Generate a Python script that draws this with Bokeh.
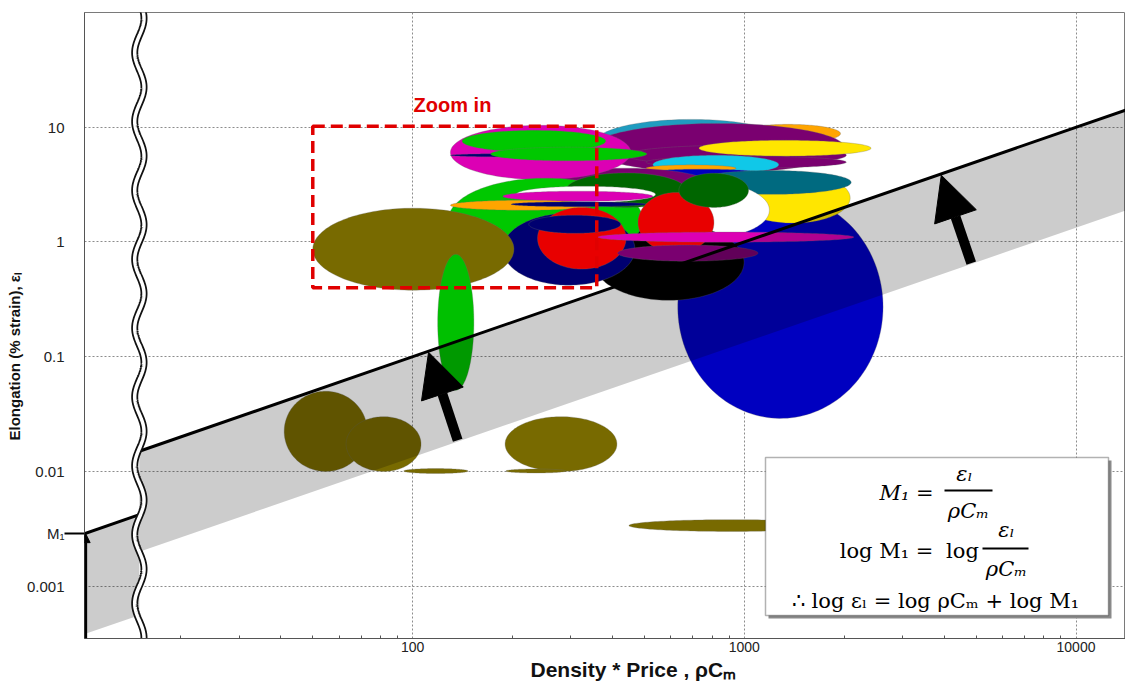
import numpy as np
from bokeh.plotting import figure
from bokeh.models import (FixedTicker, CustomJSTickFormatter, Label, Arrow, NormalHead,
                          BoxAnnotation, Title)
from bokeh.embed import file_html
from bokeh.resources import INLINE

# ---------------- axes ----------------
X_RANGE = (10.25, 14100.0)
Y_RANGE = (0.00035, 100.0)
X_TICKS = [100, 1000, 10000]
Y_TICKS = [0.001, 0.01, 0.1, 1, 10]
X_MINOR = [m * d for d in (10, 100, 1000) for m in range(2, 10)]
X_LABEL = "Density * Price , ρCₘ"
Y_LABEL = "Elongation (% strain), εₗ"

# ---------------- materials (property ranges, drawn in this order) ----------------
MAT_COLOR = [
    "#0000c0", "#1f9cc0", "#ffa500", "#7a0070", "#7a0070", "#ffe600", "#7a0070",
    "#10c8e8", "#ffa500", "#0000c0", "#ffe600", "#006a80", "#7a0070", "#ffffff",
    "#dc00b4", "#00c800", "#000070", "#00c800", "#000000", "#00c800",
    "#006600", "#ffffff", "#dc00b4", "#ffa500", "#000070", "#000070", "#e80000",
    "#000070", "#e80000", "#006600", "#dc00b4", "#7a0070",
    "#786a00", "#786a00", "#786a00", "#786a00", "#786a00", "#786a00", "#786a00",
    "#00c000",
]
RHOCM_LO = [630, 357, 944, 345, 440, 730, 505, 530, 505, 490, 944, 690, 235, 495,
            130, 141, 130, 172, 352, 128, 290, 205, 187, 130, 198, 187, 238,
            224, 478, 635, 362, 415,
            41, 63, 94, 190, 191, 449, 50, 119]
RHOCM_HI = [2620, 1340, 1950, 2010, 2030, 2410, 2030, 1270, 944, 1120, 2085, 2100, 800, 1190,
            455, 382, 354, 508, 998, 495, 667, 540, 530, 354, 508, 468, 440,
            424, 810, 1030, 2140, 1100,
            73, 106, 147, 413, 290, 1850, 202, 153]
ELONG_LO = [0.029, 4.7, 7.3, 4.0, 4.67, 5.6, 4.4, 3.9, 4.1, 3.67, 1.46, 2.6, 2.2, 1.08,
            3.5, 6.1, 5.5, 5.1, 0.31, 0.67, 2.0, 2.2, 2.26, 1.89, 2.03, 0.42, 0.58,
            1.19, 0.81, 2.0, 0.995, 0.68,
            0.010, 0.010, 0.0096, 0.010, 0.0097, 0.0030, 0.38, 0.051]
ELONG_HI = [2.55, 11.7, 10.6, 10.8, 6.97, 7.7, 5.6, 5.7, 4.7, 4.31, 4.0, 4.2, 4.4, 3.32,
            10.4, 9.4, 5.9, 6.7, 1.43, 3.6, 4.0, 3.06, 2.77, 2.31, 2.24, 1.78, 2.0,
            1.71, 2.7, 3.97, 1.22, 0.94,
            0.050, 0.030, 0.0106, 0.030, 0.0105, 0.0038, 1.97, 0.78]

# ---------------- guide line M1 = eps / (rho Cm) ----------------
BREAK_X = 15.0          # axis break position
M1_LEFT = 0.00028       # guide constant left of the break
M1_MAIN = 0.001         # guide constant right of the break
BAND_RATIO = 0.133      # lower edge of the shaded search band
M1_TICK = M1_LEFT * X_RANGE[0]

ARROW_X0 = [136.7, 4833]
ARROW_Y0 = [0.0187, 0.653]
ARROW_X1 = [111.7, 3925]
ARROW_Y1 = [0.1094, 3.82]

ZOOM_BOX_X = [50, 359]
ZOOM_BOX_Y = [0.4, 10.2]

# ---------------- figure ----------------
FL, FT, FW, FH = 84, 12, 1041, 626   # frame left / top / width / height (page px)
FB = FT + FH


def sx(X):
    return X - FL


def sy(Y):
    return FB - Y


p = figure(frame_width=FW, frame_height=FH, x_axis_type="log", y_axis_type="log",
           x_range=X_RANGE, y_range=Y_RANGE, output_backend="svg",
           toolbar_location=None, min_border_left=FL, min_border_right=0,
           min_border_top=FT, min_border_bottom=688 - FB)
p.background_fill_color = "white"
p.border_fill_color = "white"
p.outline_line_color = "#7a7a7a"

p.xaxis.ticker = FixedTicker(ticks=X_TICKS, minor_ticks=X_MINOR)
p.yaxis.ticker = FixedTicker(ticks=Y_TICKS + [M1_TICK], minor_ticks=[M1_TICK])
p.xaxis.formatter = CustomJSTickFormatter(code="return tick.toString()")
p.yaxis.formatter = CustomJSTickFormatter(
    args=dict(m1=M1_TICK),
    code="return (Math.abs(tick - m1) < 1e-12) ? 'M\u2081' : tick.toString()")
p.xgrid.ticker = FixedTicker(ticks=X_TICKS)
p.ygrid.ticker = FixedTicker(ticks=Y_TICKS)
p.grid.grid_line_color = "#8c8c8c"
p.grid.grid_line_dash = "2 2"
p.grid.grid_line_width = 1

for ax in (p.xaxis, p.yaxis):
    ax.axis_line_color = "#555555"
    ax.major_tick_line_color = "#555555"
    ax.major_tick_in = 0
    ax.major_tick_out = 0
    ax.major_label_text_color = "#222222"

p.xaxis.minor_tick_line_color = "#555555"
p.xaxis.minor_tick_in = 3
p.xaxis.minor_tick_out = 0
p.yaxis.minor_tick_line_color = "black"
p.yaxis.minor_tick_line_width = 2
p.yaxis.minor_tick_in = 0
p.yaxis.minor_tick_out = 20

p.xaxis.major_label_text_font = "Liberation Sans"
p.xaxis.major_label_text_font_size = "14px"
p.xaxis.major_label_standoff = 3
p.yaxis.major_label_text_font = "Liberation Sans"
p.yaxis.major_label_text_font_size = "15px"
p.yaxis.major_label_standoff = 0

# axis titles (placed as side titles so they can be offset like the original)
p.add_layout(Title(text=X_LABEL, align="left", offset=446, standoff=2,
                   text_font="Liberation Sans", text_font_style="bold",
                   text_font_size="21px", text_color="#111111"), "below")
p.add_layout(Title(text=Y_LABEL, align="left", offset=198, standoff=2,
                   text_font="Liberation Sans", text_font_style="bold",
                   text_font_size="15px", text_color="#111111"), "left")

# ---------------- material ellipses (in log space) ----------------
t = np.linspace(0, 2 * np.pi, 160)
xs, ys = [], []
for xl, xh, yl, yh in zip(RHOCM_LO, RHOCM_HI, ELONG_LO, ELONG_HI):
    cx, rx = (np.log10(xl) + np.log10(xh)) / 2, (np.log10(xh) - np.log10(xl)) / 2
    cy, ry = (np.log10(yl) + np.log10(yh)) / 2, (np.log10(yh) - np.log10(yl)) / 2
    xs.append(list(10 ** (cx + rx * np.cos(t))))
    ys.append(list(10 ** (cy + ry * np.sin(t))))
p.patches(xs, ys, fill_color=MAT_COLOR, line_color="#6a6a6a", line_alpha=0.5,
          line_width=0.6)

# ---------------- shaded band + guide lines ----------------
x0, x1 = X_RANGE[0] * 0.97, X_RANGE[1] * 1.05
b = BREAK_X
p.patch([x0, b, b, x0],
        [M1_LEFT * x0, M1_LEFT * b, BAND_RATIO * M1_LEFT * b, BAND_RATIO * M1_LEFT * x0],
        fill_color="black", fill_alpha=0.2, line_color=None)
p.patch([b, x1, x1, b],
        [M1_MAIN * b, M1_MAIN * x1, BAND_RATIO * M1_MAIN * x1, BAND_RATIO * M1_MAIN * b],
        fill_color="black", fill_alpha=0.2, line_color=None)
p.line([x0, b], [M1_LEFT * x0, M1_LEFT * b], line_color="black", line_width=3)
p.line([b, x1], [M1_MAIN * b, M1_MAIN * x1], line_color="black", line_width=3)

# axis-break wavy double line
ly = np.linspace(np.log10(Y_RANGE[0]) - 0.2, np.log10(Y_RANGE[1]) + 0.2, 900)
wx = 10 ** (np.log10(BREAK_X) + 0.014 * np.sin(2 * np.pi * ly / 0.6))
p.line(wx, 10 ** ly, line_color="#111111", line_width=7)
p.line(wx, 10 ** ly, line_color="white", line_width=3.5)

# zoom box
p.quad(left=ZOOM_BOX_X[0], right=ZOOM_BOX_X[1], bottom=ZOOM_BOX_Y[0], top=ZOOM_BOX_Y[1],
       fill_alpha=0, line_color="#e00000", line_width=3.5, line_dash="12 6")
p.add_layout(Label(x=sx(452), y=sy(104), x_units="screen", y_units="screen",
                   text="Zoom in", text_color="#e00000", text_font="Liberation Sans",
                   text_font_style="bold", text_font_size="20px",
                   text_align="center", text_baseline="middle"))

# arrows
for xa, ya, xb, yb in zip(ARROW_X0, ARROW_Y0, ARROW_X1, ARROW_Y1):
    p.add_layout(Arrow(end=NormalHead(size=44, fill_color="black", line_color="black"),
                       x_start=xa, y_start=ya, x_end=xb, y_end=yb,
                       line_width=10, line_color="black"))
xm = X_RANGE[0] * 1.008
p.add_layout(Arrow(end=NormalHead(size=9, fill_color="black", line_color="black"),
                   x_start=xm, y_start=Y_RANGE[0], x_end=xm, y_end=M1_TICK,
                   line_width=3, line_color="black"))


# formula box
def sbox(l, r, tp, bt, **kw):
    return BoxAnnotation(left=sx(l), right=sx(r), top=sy(tp), bottom=sy(bt),
                         left_units="screen", right_units="screen",
                         top_units="screen", bottom_units="screen", **kw)


p.add_layout(sbox(768, 1111, 460, 618, fill_color="#8a8a8a", fill_alpha=1, line_color=None))
p.add_layout(sbox(765, 1108, 457, 615, fill_color="white", fill_alpha=1,
                  line_color="black", line_width=1.5))
for (x1b, x2b, yb) in [(944, 992, 490), (982, 1028, 548)]:
    p.add_layout(sbox(x1b, x2b, yb - 1, yb + 1, fill_color="black", fill_alpha=1,
                      line_color=None))

FORMULA = [
    ("M₁ =", 906, 492, "italic"),
    ("εₗ", 964, 473, "italic"),
    ("ρCₘ", 968, 510, "italic"),
    ("log M₁ =", 886, 550, "normal"),
    ("log", 962, 550, "normal"),
    ("εₗ", 1006, 529, "italic"),
    ("ρCₘ", 1006, 568, "italic"),
    ("∴ log εₗ = log ρCₘ + log M₁", 935, 600, "normal"),
]
for txt, X, Y, st in FORMULA:
    p.add_layout(Label(x=sx(X), y=sy(Y), x_units="screen", y_units="screen", text=txt,
                       text_font="DejaVu Serif", text_font_style=st,
                       text_font_size="21px", text_align="center",
                       text_baseline="middle", text_color="black"))

open("out.html", "w").write(file_html(p, INLINE))
